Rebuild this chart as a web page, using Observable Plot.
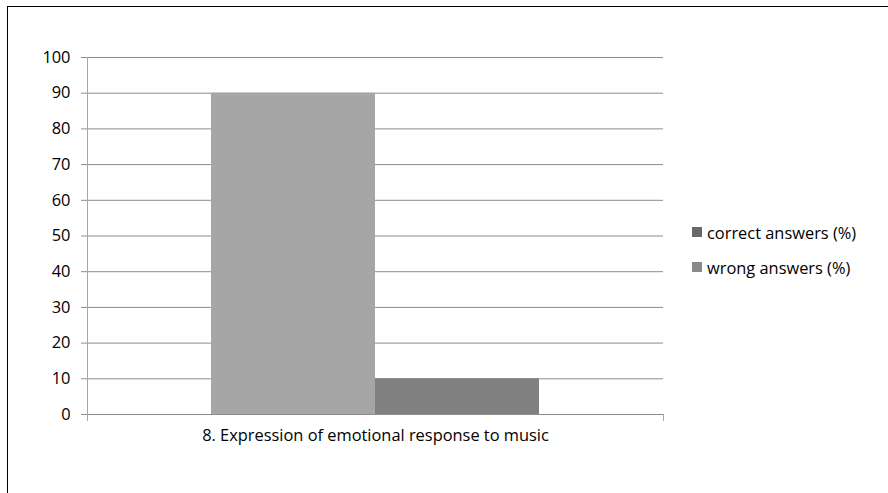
<!DOCTYPE html>
<html>
<head>
<meta charset="utf-8">
<script src="https://cdn.jsdelivr.net/npm/d3@7"></script>
<script src="https://cdn.jsdelivr.net/npm/@observablehq/plot@0.6"></script>
<style>
  html, body { margin: 0; padding: 0; background: #fff; }
  #wrap { position: relative; width: 888px; height: 493px; overflow: hidden; font-family: "Open Sans", "Noto Sans", sans-serif; }
  #border { position: absolute; left: 7px; top: 6px; width: 1000px; height: 1000px; border-top: 1px solid #000; border-left: 1px solid #000; box-sizing: border-box; pointer-events: none; }
  #chart { position: absolute; left: 0; top: 0; }
  #legend { position: absolute; left: 692px; top: 222px; font-size: 16.4px; color: #000; }
  .row { display: flex; align-items: center; height: 20px; margin-bottom: 15px; }
  .sw { width: 10px; height: 10px; margin-right: 5px; }
</style>
</head>
<body>
<div id="wrap">
  <div id="chart"></div>
  <div id="legend"></div>
  <div id="border"></div>
</div>
<script>
// Question shown on the category axis
const categories = ["8. Expression of emotional response to music"];
// Series names and their percentages for that question
const series = ["correct answers (%)", "wrong answers (%)"];
const values = [90, 10];
// Value axis ticks
const yTicks = [0, 10, 20, 30, 40, 50, 60, 70, 80, 90, 100];

const barColors = ["#a6a6a6", "#808080"];
const legendColors = ["#686868", "#8a8a8a"];

const rows = series.map((s, i) => ({category: categories[0], series: s, value: values[i]}));

const chart = Plot.plot({
  width: 888,
  height: 493,
  marginLeft: 87,
  marginRight: 225,
  marginTop: 57,
  marginBottom: 79,
  style: {fontFamily: "'Open Sans', 'Noto Sans', sans-serif", fontSize: "16.4px", color: "#000", background: "transparent"},
  fx: {domain: categories, padding: 0},
  x: {domain: series, paddingInner: 0, paddingOuter: 0.7455, axis: null},
  y: {domain: [0, 100], axis: null},
  color: {domain: series, range: barColors},
  marks: [
    Plot.gridY(yTicks, {stroke: "#8c8c8c", strokeOpacity: 1, insetLeft: -6}),
    Plot.axisY(yTicks, {tickSize: 0, tickPadding: 17, fill: "#000", stroke: null, label: null}),
    Plot.barY(rows, {fx: "category", x: "series", y: "value", fill: "series"}),
    Plot.ruleY([0], {stroke: "#8c8c8c", insetLeft: -6}),
    Plot.frame({anchor: "left", stroke: "#a6a6a6", insetBottom: -6}),
    Plot.frame({anchor: "right", stroke: "#a6a6a6", insetBottom: -6, insetTop: 357}),
    Plot.axisFx({anchor: "bottom", tickSize: 0, tickPadding: 15, label: null, fill: "#000"})
  ]
});
document.getElementById("chart").append(chart);

const legend = document.getElementById("legend");
series.forEach((s, i) => {
  const row = document.createElement("div");
  row.className = "row";
  const sw = document.createElement("div");
  sw.className = "sw";
  sw.style.background = legendColors[i];
  const label = document.createElement("span");
  label.textContent = s;
  row.append(sw, label);
  legend.append(row);
});
</script>
</body>
</html>
